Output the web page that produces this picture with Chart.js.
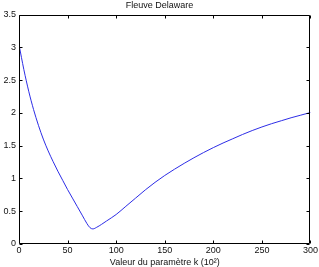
<!DOCTYPE html>
<html>
<head>
<meta charset="utf-8">
<script src="https://cdn.jsdelivr.net/npm/chart.js@4"></script>
<style>
html,body{margin:0;padding:0;background:#fff;}
#wrap{width:319px;height:267px;}
</style>
</head>
<body>
<div id="wrap"><canvas id="c" width="319" height="267"></canvas></div>
<script>
const chartTitle = "Fleuve Delaware";
const xTitle = "Valeur du paramètre k (10²)";
const kValues = [0,5,10,15,20,25,30,35,40,45,50,55,60,65,70,73,76,80,85,90,100,110,120,130,140,150,160,170,180,190,200,210,220,230,240,250,260,270,280,290,300];
const seriesValues = [3.04,2.66,2.33,2.05,1.81,1.60,1.42,1.26,1.11,0.97,0.83,0.70,0.57,0.44,0.31,0.25,0.23,0.255,0.30,0.35,0.45,0.575,0.70,0.825,0.94,1.045,1.14,1.23,1.315,1.395,1.47,1.54,1.605,1.67,1.73,1.785,1.835,1.88,1.925,1.965,2.005];
const xTicks = [0,50,100,150,200,250,300];
const yTicks = [0,0.5,1,1.5,2,2.5,3,3.5];

const FONT = "'Liberation Sans', Arial, Helvetica, sans-serif";

const boxPlugin = {
  id: 'matlabBox',
  afterDraw(chart) {
    const {ctx, chartArea: a, scales} = chart;
    const L = Math.round(a.left)+0.5, R = Math.round(a.right)-0.5, T = Math.round(a.top)+0.5, B = Math.round(a.bottom)-0.5;
    ctx.save();
    ctx.strokeStyle = '#000';
    ctx.lineWidth = 1;
    ctx.beginPath();
    ctx.rect(L, T, R - L, B - T);
    const tl = 3;
    xTicks.forEach(v => {
      const px = Math.round(scales.x.getPixelForValue(v)) + 0.5;
      ctx.moveTo(px, B); ctx.lineTo(px, B - tl);
      ctx.moveTo(px, T); ctx.lineTo(px, T + tl);
    });
    yTicks.forEach(v => {
      const py = Math.round(scales.y.getPixelForValue(v)) + 0.5;
      ctx.moveTo(L, py); ctx.lineTo(L + tl, py);
      ctx.moveTo(R, py); ctx.lineTo(R - tl, py);
    });
    ctx.stroke();
    ctx.restore();
  }
};

new Chart(document.getElementById('c'), {
  type: 'line',
  data: {
    datasets: [{
      data: kValues.map((k, i) => ({x: k, y: seriesValues[i]})),
      borderColor: 'rgb(45,45,230)',
      borderWidth: 1,
      pointRadius: 0,
      cubicInterpolationMode: 'monotone',
      fill: false
    }]
  },
  options: {
    responsive: false,
    animation: false,
    devicePixelRatio: 1,
    layout: { padding: { left: 0, right: 0, top: 0, bottom: 0 } },
    plugins: {
      legend: { display: false },
      tooltip: { enabled: false },
      title: {
        display: true,
        text: chartTitle,
        color: '#111',
        font: { family: FONT, size: 9, weight: 'normal', lineHeight: 1.2 },
        padding: { top: 0, bottom: 3.7 }
      }
    },
    scales: {
      x: {
        type: 'linear',
        min: 0, max: 300,
        afterBuildTicks: s => { s.ticks = xTicks.map(v => ({value: v})); },
        afterFit: s => { s.height = 23; },
        grid: { display: false, drawTicks: false },
        border: { display: false },
        ticks: { color: '#111', padding: 1, maxRotation: 0, font: { family: FONT, size: 9 } },
        title: { display: true, text: xTitle, color: '#111', padding: 0, font: { family: FONT, size: 9, lineHeight: 1 } }
      },
      y: {
        type: 'linear',
        min: 0, max: 3.5,
        afterBuildTicks: s => { s.ticks = yTicks.map(v => ({value: v})); },
        afterFit: s => { s.width = 19; },
        grid: { display: false, drawTicks: false },
        border: { display: false },
        ticks: { color: '#111', padding: 3, font: { family: FONT, size: 9 }, callback: v => String(v) }
      }
    }
  },
  plugins: [boxPlugin]
});
</script>
</body>
</html>
